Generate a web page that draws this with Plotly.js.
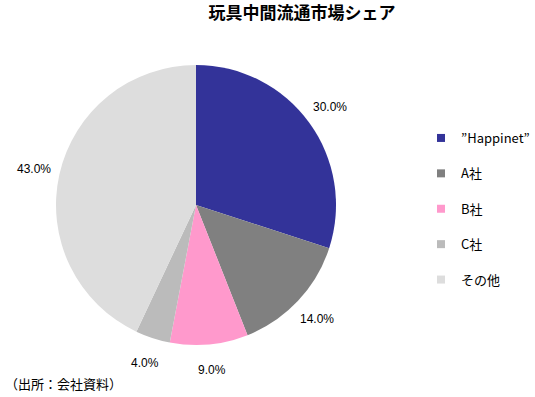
<!DOCTYPE html>
<html>
<head>
<meta charset="utf-8">
<script src="https://cdn.plot.ly/plotly-3.0.1.min.js"></script>
<style>html,body{margin:0;padding:0;background:#fff;}#chart{width:535px;height:397px;}</style>
</head>
<body>
<div id="chart"></div>
<script>
const chartTitle = "玩具中間流通市場シェア";
const categories = ["”Happinet”", "A社", "B社", "C社", "その他"];
const shares = [30.0, 14.0, 9.0, 4.0, 43.0];
const sliceColors = ["#333399", "#808080", "#FF99CC", "#BBBBBB", "#DDDDDD"];
const sourceNote = "（出所：会社資料）";

const W = 535, H = 397;
const cx = 196, cy = 205, R = 140, labelR = 166;

const traces = [{
  type: "pie",
  labels: categories,
  values: shares,
  sort: false,
  direction: "clockwise",
  rotation: 0,
  marker: {colors: sliceColors, line: {width: 0}},
  textinfo: "none",
  hoverinfo: "label+percent",
  showlegend: false,
  domain: {x: [(cx - R) / W, (cx + R) / W], y: [(H - cy - R) / H, (H - cy + R) / H]}
}];

categories.forEach((c, i) => {
  traces.push({
    type: "scatter", mode: "markers", x: [null], y: [null],
    name: c, legendgroup: "g" + i,
    marker: {symbol: "square", size: 8, color: sliceColors[i]},
    showlegend: true, hoverinfo: "skip"
  });
});

const total = shares.reduce((a, b) => a + b, 0);
const annotations = [];
let cum = 0;
shares.forEach((v, i) => {
  const mid = (cum + v / 2) / total * 2 * Math.PI;
  cum += v;
  const px = cx + labelR * Math.sin(mid);
  const py = cy - labelR * Math.cos(mid);
  annotations.push({
    xref: "paper", yref: "paper", x: px / W, y: 1 - py / H,
    xanchor: "center", yanchor: "middle", showarrow: false,
    text: v.toFixed(1) + "%",
    font: {family: "Liberation Sans, Arial, sans-serif", size: 12, color: "#000"}
  });
});
annotations.push({
  xref: "paper", yref: "paper", x: 3 / W, y: 1 - 383 / H,
  xanchor: "left", yanchor: "middle", showarrow: false,
  text: sourceNote,
  font: {family: "Noto Sans CJK JP, sans-serif", size: 13, color: "#000"}
});

const layout = {
  width: W, height: H,
  margin: {l: 0, r: 0, t: 0, b: 0},
  paper_bgcolor: "#fff", plot_bgcolor: "#fff",
  title: {text: "<b>" + chartTitle + "</b>", x: 302 / W, xanchor: "center", y: 1 - 13 / H, yanchor: "middle",
          font: {family: "Noto Sans CJK JP, sans-serif", size: 17, color: "#000"}},
  xaxis: {visible: false}, yaxis: {visible: false},
  showlegend: true,
  legend: {x: 421 / W, xanchor: "left", y: 1 - 123 / H, yanchor: "top",
           tracegroupgap: 15.5, bgcolor: "rgba(0,0,0,0)",
           font: {family: "Noto Sans CJK JP, sans-serif", size: 13, color: "#000"}},
  annotations: annotations
};

Plotly.newPlot("chart", traces, layout, {displayModeBar: false, staticPlot: true});
</script>
</body>
</html>
